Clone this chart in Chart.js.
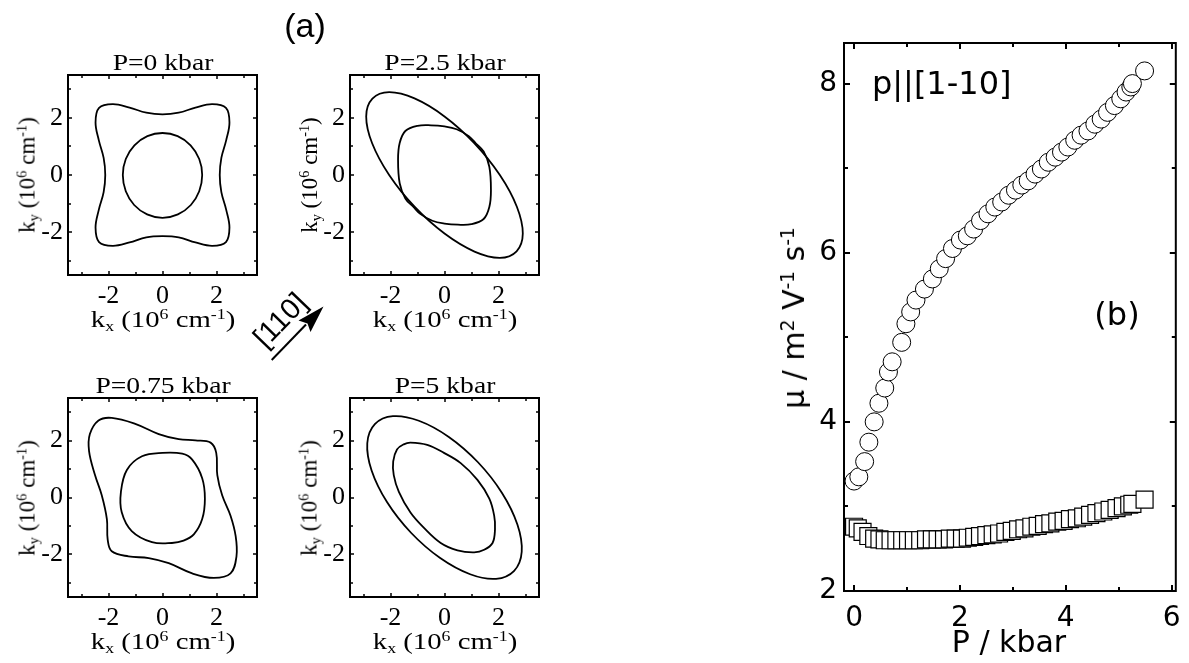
<!DOCTYPE html>
<html>
<head>
<meta charset="utf-8">
<script src="https://cdn.jsdelivr.net/npm/chart.js@4.4.1/dist/chart.umd.min.js"></script>
<style>
  html, body { margin: 0; padding: 0; background: #fff; }
  #page { position: relative; width: 1189px; height: 663px; overflow: hidden; background: #fff; }
  canvas { position: absolute; }
  .lbl { position: absolute; white-space: nowrap; line-height: 1; color: #000; }
  .serif { font-family: "Liberation Serif", "Times New Roman", serif; }
  .sans { font-family: "Liberation Sans", Arial, sans-serif; }
  .dv { font-family: "DejaVu Sans", sans-serif; }
  .lbl sub, .lbl sup { font-size: 0.62em; line-height: 0; position: relative; vertical-align: baseline; }
  .lbl sub { top: 0.3em; }
  .lbl sup { top: -0.55em; }
</style>
</head>
<body>
<div id="page">
  <svg width="1189" height="663" style="position:absolute;left:0;top:0">
    <line x1="271.7" y1="360" x2="306" y2="324.5" stroke="#000" stroke-width="2"/>
    <polygon points="323.5,306.5 310.5,332 307.5,323.5 298.5,320.5" fill="#000"/>
  </svg>
</div>
<script>
// panel (a): Fermi contours, k in 10^6 cm^-1
const pressures = ['P=0 kbar', 'P=2.5 kbar', 'P=0.75 kbar', 'P=5 kbar'];
const kTicks = [-2, 0, 2];
const kMinor = [-3, -1, 1, 3];

const p0Inner = [[1.47,0],[1.36,0.56],[1.04,1.04],[0.56,1.36],[0,1.47],[-0.56,1.36],[-1.04,1.04],[-1.36,0.56],
  [-1.47,0],[-1.36,-0.57],[-1.05,-1.05],[-0.57,-1.38],[0,-1.5],[0.57,-1.38],[1.05,-1.05],[1.36,-0.57]];
const p0Outer = [[2.12,0],[2.18,0.6],[2.36,1.22],[2.48,1.84],[2.35,2.35],[1.84,2.48],[1.22,2.36],[0.6,2.18],
  [0,2.12],[-0.6,2.18],[-1.22,2.36],[-1.84,2.48],[-2.35,2.35],[-2.48,1.84],[-2.36,1.22],[-2.18,0.6],
  [-2.12,0],[-2.18,-0.6],[-2.36,-1.22],[-2.48,-1.84],[-2.35,-2.35],[-1.84,-2.48],[-1.22,-2.36],[-0.6,-2.18],
  [0,-2.14],[0.6,-2.18],[1.22,-2.36],[1.84,-2.48],[2.35,-2.35],[2.48,-1.84],[2.36,-1.22],[2.18,-0.6]];

const p25Inner = [[-1.72,0.54],[-1.66,1.12],[-1.45,1.54],[-1.0,1.72],[-0.5,1.74],[0.0,1.70],[0.45,1.60],[0.9,1.36],
  [1.15,1.12],[1.45,0.82],[1.66,0.29],[1.72,-0.54],[1.66,-1.12],[1.45,-1.54],[1.0,-1.72],[0.5,-1.74],
  [0.0,-1.70],[-0.45,-1.60],[-0.9,-1.36],[-1.15,-1.12],[-1.45,-0.82],[-1.66,-0.29]];
const p25Outer = [[-2.67,2.67],[-2.05,2.90],[-1.11,2.68],[0.0,2.05],[1.11,1.11],[2.05,0.0],[2.68,-1.11],[2.90,-2.05],
  [2.67,-2.67],[2.05,-2.90],[1.11,-2.68],[0.0,-2.05],[-1.11,-1.11],[-2.05,0.0],[-2.68,1.11],[-2.90,2.05]];

const p075Inner = [[0,1.57],[0.73,1.54],[1.10,1.33],[1.47,0.68],[1.57,-0.04],[1.47,-0.76],[1.16,-1.30],[0.78,-1.52],
  [0.35,-1.60],[-0.39,-1.57],[-1.14,-1.18],[-1.51,-0.52],[-1.54,0.20],[-1.32,0.97],[-0.76,1.45]];
const p075Outer = [[-1.88,2.80],[-1.01,2.59],[-0.14,2.23],[0.60,2.05],[1.22,2.01],[1.78,1.93],[1.99,1.57],[2.03,0.79],
  [2.21,0.08],[2.52,-0.64],[2.71,-1.36],[2.74,-2.07],[2.52,-2.67],[1.90,-2.83],[1.10,-2.67],[0.23,-2.31],
  [-0.51,-2.13],[-1.26,-2.07],[-1.88,-1.89],[-2.03,-1.48],[-2.06,-0.76],[-2.25,0.08],[-2.50,0.79],[-2.72,1.63],
  [-2.69,2.23],[-2.37,2.71]];

const p5Inner = [[-1.26,1.93],[-0.64,1.85],[-0.02,1.57],[0.60,1.21],[1.22,0.62],[1.66,-0.04],[1.84,-0.64],[1.87,-1.12],
  [1.78,-1.60],[1.47,-1.84],[1.10,-1.93],[0.48,-1.86],[-0.14,-1.60],[-0.76,-1.07],[-1.26,-0.53],[-1.69,0.20],
  [-1.88,0.79],[-1.90,1.27],[-1.76,1.69],[-1.51,1.87]];
const p5Outer = [[-2.58,2.58],[-1.91,2.86],[-0.95,2.70],[0.16,2.13],[1.24,1.24],[2.13,0.16],[2.70,-0.95],[2.86,-1.91],
  [2.58,-2.58],[1.91,-2.86],[0.95,-2.70],[-0.16,-2.13],[-1.24,-1.24],[-2.13,-0.16],[-2.70,0.95],[-2.86,1.91]];

// panel (b): mobility vs pressure
const pCircle = [0.00,0.09,0.20,0.28,0.38,0.47,0.58,0.65,0.72,0.90,0.98,1.07,1.17,1.33,1.48,1.61,1.73,1.86,2.01,2.14,2.26,
  2.39,2.53,2.66,2.79,2.92,3.05,3.17,3.29,3.42,3.54,3.67,3.80,3.92,4.04,4.17,4.29,4.42,4.55,4.67,4.79,4.92,5.04,5.14,5.23,5.26,5.49];
const muCircle = [3.30,3.35,3.53,3.76,4.00,4.22,4.40,4.59,4.71,4.94,5.16,5.30,5.44,5.57,5.69,5.81,5.93,6.05,6.15,6.20,6.28,
  6.38,6.46,6.54,6.60,6.68,6.74,6.80,6.85,6.93,6.99,7.07,7.13,7.19,7.25,7.33,7.39,7.44,7.52,7.58,7.66,7.74,7.82,7.90,7.96,8.00,8.15];
const pSquare = [0.00,0.07,0.16,0.27,0.38,0.48,0.58,0.69,0.80,0.91,1.02,1.13,1.25,1.36,1.47,1.58,1.70,1.81,1.92,2.04,
  2.15,2.27,2.38,2.50,2.62,2.74,2.86,2.98,3.10,3.22,3.35,3.47,3.59,3.71,3.84,3.96,4.08,4.21,4.33,4.46,4.58,4.71,4.83,4.96,5.08,5.20,5.26,5.49];
const muSquare = [2.76,2.74,2.70,2.65,2.62,2.61,2.60,2.60,2.60,2.60,2.60,2.60,2.60,2.61,2.61,2.61,2.61,2.62,2.62,2.62,
  2.63,2.64,2.65,2.66,2.67,2.68,2.70,2.71,2.73,2.74,2.76,2.77,2.79,2.80,2.82,2.83,2.85,2.86,2.88,2.90,2.92,2.94,2.96,2.98,3.00,3.02,3.03,3.08];
const pTicks = [0, 2, 4, 6];
const pMinor = [1, 3, 5];
const muTicks = [2, 4, 6, 8];
const muMinor = [3, 5, 7];

const page = document.getElementById('page');
const SERIF = '"Liberation Serif", "Times New Roman", serif';
const DV = '"DejaVu Sans", sans-serif';

// box frame with inward ticks on all four sides
const frameTicks = {
  id: 'frameTicks',
  afterDatasetsDraw(chart, args, o) {
    const { ctx, chartArea: a } = chart;
    const sx = chart.scales.x, sy = chart.scales.y;
    ctx.save();
    ctx.strokeStyle = '#000';
    ctx.lineWidth = o.tickWidth;
    ctx.beginPath();
    const xm = (vals, len) => vals.forEach(v => {
      const px = Math.round(sx.getPixelForValue(v));
      ctx.moveTo(px, a.bottom); ctx.lineTo(px, a.bottom - len);
      ctx.moveTo(px, a.top); ctx.lineTo(px, a.top + len);
    });
    const ym = (vals, len) => vals.forEach(v => {
      const py = Math.round(sy.getPixelForValue(v));
      ctx.moveTo(a.left, py); ctx.lineTo(a.left + len, py);
      ctx.moveTo(a.right, py); ctx.lineTo(a.right - len, py);
    });
    xm(o.xMajor, o.major); xm(o.xMinor, o.minor);
    ym(o.yMajor, o.major); ym(o.yMinor, o.minor);
    ctx.stroke();
    ctx.lineWidth = o.width;
    ctx.strokeRect(a.left, a.top, a.right - a.left, a.bottom - a.top);
    ctx.restore();
  }
};

// fixed scale boxes so the plot frames land where the figure has them
function fixBox(size) {
  return s => {
    if (s.isHorizontal()) s.height = size; else s.width = size;
    s.paddingLeft = 0; s.paddingRight = 0; s.paddingTop = 0; s.paddingBottom = 0;
  };
}

function makeCanvas(left, top, w, h) {
  const c = document.createElement('canvas');
  c.width = w; c.height = h;
  c.style.left = left + 'px'; c.style.top = top + 'px';
  c.style.width = w + 'px'; c.style.height = h + 'px';
  page.appendChild(c);
  return c;
}

function label(html, x, y, cls, size, rot, align, stretch) {
  const d = document.createElement('div');
  d.className = 'lbl ' + cls;
  d.style.fontSize = size + 'px';
  d.innerHTML = html;
  d.style.left = x + 'px';
  d.style.top = y + 'px';
  const tx = align === 'left' ? '0' : '-50%';
  d.style.transform = 'translate(' + tx + ', -50%) scaleX(' + (stretch || 1) + ') rotate(' + (rot || 0) + 'deg)';
  if (align === 'left') d.style.transformOrigin = 'left center';
  page.appendChild(d);
}

// closed curve: pad with neighbours so the spline is smooth at the join, hide the padding segments
function loopDataset(pts) {
  const n = pts.length;
  const seq = [pts[n - 1]].concat(pts, [pts[0], pts[1]]);
  return {
    data: seq.map(p => ({ x: p[0], y: p[1] })),
    showLine: true,
    borderColor: '#000',
    borderWidth: 1.8,
    pointRadius: 0,
    tension: 0.38,
    fill: false,
    segment: {
      borderColor: c => (c.p0DataIndex === 0 || c.p0DataIndex === n + 1) ? 'rgba(0,0,0,0)' : '#000'
    }
  };
}

function contourPlot(box, title, curves) {
  const W = (box.r - box.l) + 80, H = (box.b - box.t) + 75;
  const cv = makeCanvas(box.l - 68, box.t - 30, W, H);
  const tickOpts = { color: '#000', padding: 6, autoSkip: false, maxRotation: 0,
    font: { family: SERIF, size: 26 }, callback: v => String(v) };
  new Chart(cv, {
    type: 'scatter',
    data: { datasets: curves.map(loopDataset) },
    options: {
      responsive: false, animation: false, events: [],
      layout: { padding: { left: 0, top: 30, right: 12, bottom: 0 } },
      plugins: {
        legend: { display: false }, tooltip: { enabled: false },
        frameTicks: { width: 2, tickWidth: 1.5, major: 4, minor: 3,
          xMajor: kTicks, xMinor: kMinor, yMajor: kTicks, yMinor: kMinor }
      },
      scales: {
        x: { type: 'linear', min: -3.5, max: 3.5,
          afterBuildTicks: s => { s.ticks = kTicks.map(v => ({ value: v })); },
          afterFit: fixBox(45),
          grid: { display: false, drawTicks: false }, border: { display: false },
          ticks: tickOpts },
        y: { type: 'linear', min: -3.5, max: 3.5,
          afterBuildTicks: s => { s.ticks = kTicks.map(v => ({ value: v })); },
          afterFit: fixBox(68),
          grid: { display: false, drawTicks: false }, border: { display: false },
          ticks: Object.assign({}, tickOpts, { padding: 5 }) }
      }
    },
    plugins: [frameTicks]
  });
  const cx = (box.l + box.r) / 2, cy = (box.t + box.b) / 2;
  label(title, cx, box.t - 13, 'serif', 23, 0, null, 1.2);
  label('k<sub>x</sub> (10<sup>6</sup> cm<sup>-1</sup>)', cx, box.b + 44, 'serif', 23, 0, null, 1.25);
  label('k<sub>y</sub> (10<sup>6</sup> cm<sup>-1</sup>)', box.l - 41, cy, 'serif', 23, -90);
}

contourPlot({ l: 68, t: 75, r: 257, b: 275 }, pressures[0], [p0Inner, p0Outer]);
contourPlot({ l: 350, t: 75, r: 539, b: 275 }, pressures[1], [p25Inner, p25Outer]);
contourPlot({ l: 68, t: 398, r: 257, b: 597 }, pressures[2], [p075Inner, p075Outer]);
contourPlot({ l: 350, t: 398, r: 539, b: 597 }, pressures[3], [p5Inner, p5Outer]);

label('(a)', 305, 25, 'sans', 34);
label('[110]', 280, 320, 'sans', 29, -46);

// panel (b)
const cvB = makeCanvas(730, 0, 459, 663);
new Chart(cvB, {
  type: 'scatter',
  data: {
    datasets: [
      { data: pCircle.map((p, i) => ({ x: p, y: muCircle[i] })), pointStyle: 'circle', pointRadius: 9,
        borderWidth: 1, borderColor: '#000', backgroundColor: '#fff', clip: false },
      { data: pSquare.map((p, i) => ({ x: p, y: muSquare[i] })), pointStyle: 'rect', pointRadius: 12,
        borderWidth: 1.2, borderColor: '#000', backgroundColor: '#fff', clip: false }
    ]
  },
  options: {
    responsive: false, animation: false, events: [],
    layout: { padding: { left: 0, top: 43, right: 10, bottom: 0 } },
    plugins: {
      legend: { display: false }, tooltip: { enabled: false },
      frameTicks: { width: 2, tickWidth: 2, major: 6, minor: 4,
        xMajor: pTicks, xMinor: pMinor, yMajor: muTicks, yMinor: muMinor }
    },
    scales: {
      x: { type: 'linear', min: -0.19, max: 6.08,
        afterBuildTicks: s => { s.ticks = pTicks.map(v => ({ value: v })); },
        afterFit: fixBox(72),
        grid: { display: false, drawTicks: false }, border: { display: false },
        ticks: { color: '#000', padding: 11, autoSkip: false, maxRotation: 0,
          font: { family: DV, size: 28 }, callback: v => String(v) } },
      y: { type: 'linear', min: 2, max: 8.48,
        afterBuildTicks: s => { s.ticks = muTicks.map(v => ({ value: v })); },
        afterFit: fixBox(114),
        grid: { display: false, drawTicks: false }, border: { display: false },
        ticks: { color: '#000', padding: 7, autoSkip: false,
          font: { family: DV, size: 28 }, callback: v => String(v) } }
    }
  },
  plugins: [frameTicks]
});

label('p||[1-10]', 872, 83, 'dv', 32, 0, 'left');
label('(b)', 1117, 314, 'dv', 32);
label('P / kbar', 1009, 642, 'dv', 30);
label('&mu; / m<sup>2</sup> V<sup>-1</sup> s<sup>-1</sup>', 794, 318, 'dv', 30, -90);
</script>
</body>
</html>
